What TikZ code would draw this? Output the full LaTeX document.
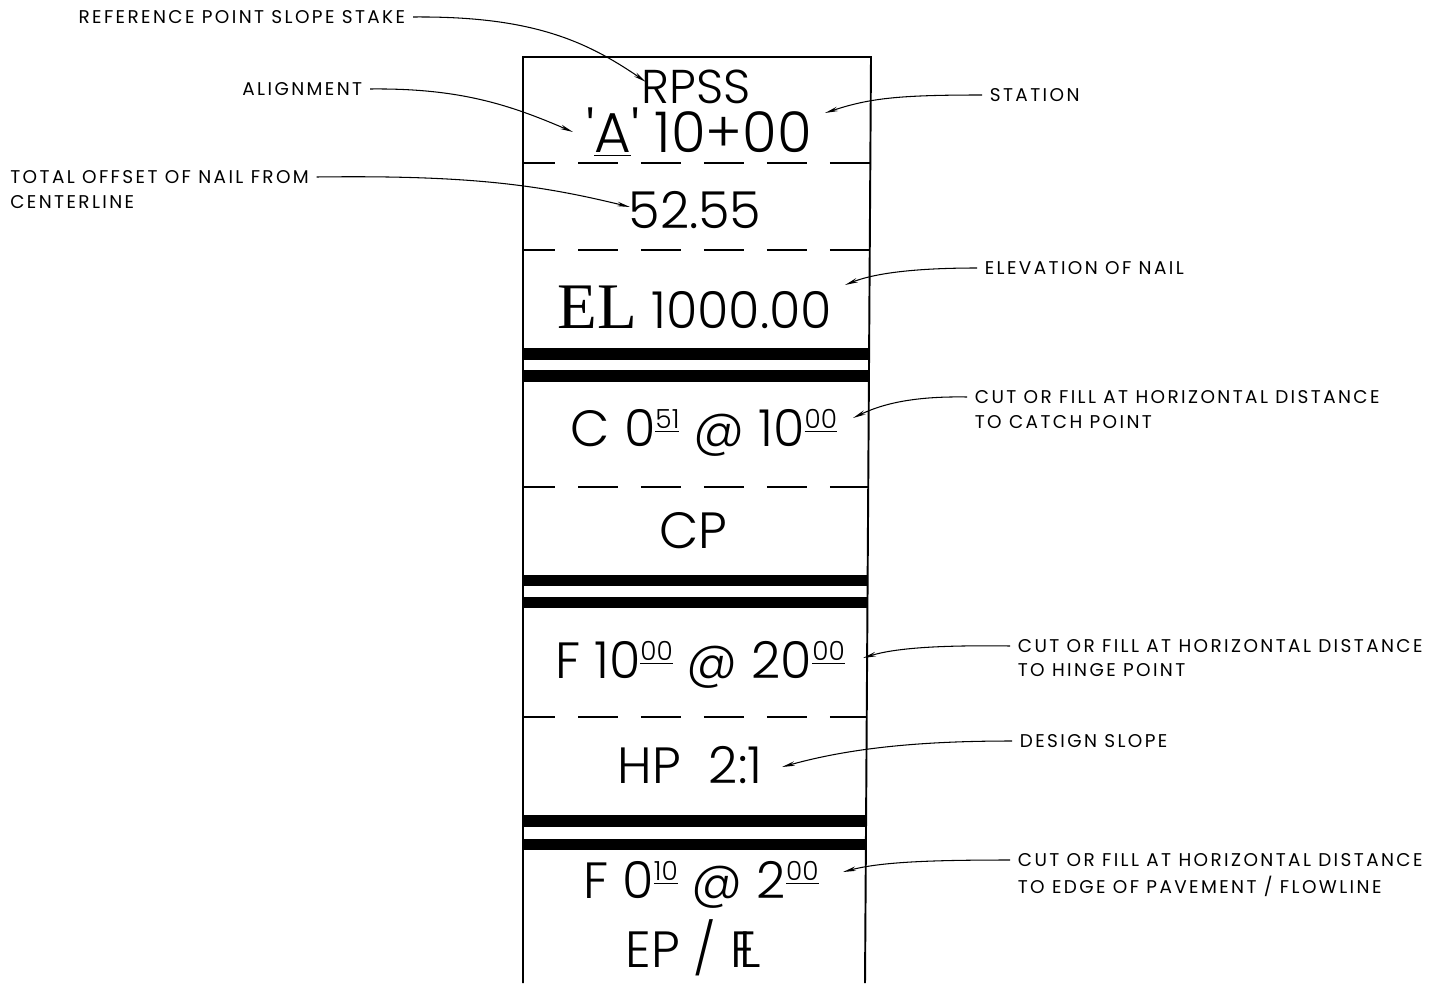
\documentclass[tikz,border=0pt]{standalone}
\usepackage{fontspec}
\setmainfont{Poppins}[LetterSpace=13]
\newfontfamily\handfont{Poppins Light}
\newfontfamily\elfont{Liberation Serif}
\usetikzlibrary{arrows.meta}
\newcommand\supline[1]{\raisebox{0.36em}{\fontsize{15}{15}\selectfont\underline{#1}}}

\begin{document}
\begin{tikzpicture}[x=0.02cm, y=-0.02cm, >={Stealth[length=0.26cm, width=0.09cm]},
    stake/.style={font=\handfont\fontsize{29}{29}\selectfont, inner sep=0},
    note/.style={font=\fontsize{10.5}{12}\selectfont, inner ysep=0, inner xsep=0.15cm, text depth=0pt},
    leader/.style={->, line width=0.6pt},
    split/.style={line width=0.7pt, dash pattern=on 0.8cm off 0.46cm, dash phase=0.16cm}]
    \useasboundingbox (0,0) rectangle (1452,983);

    % Stake
    \draw[line width=1.1pt] (523,983) -- (523,57) -- (871,57) -- (865,983);
    \draw[split] (523,163) -- (870,163);
    \draw[split] (523,250) -- (870,250);
    \draw[split] (523,487) -- (868,487);
    \draw[split] (523,717) -- (867,717);
    \fill (523,348) rectangle (869,360);
    \fill (523,370) rectangle (869,382);
    \fill (523,575) rectangle (868,586);
    \fill (523,597) rectangle (868,608);
    \fill (523,815) rectangle (866,827);
    \fill (523,839) rectangle (866,850);

    % Stake markings
    \node[stake, font=\handfont\fontsize{27}{27}\selectfont] (rpss) at (696,87) {RPSS};
    \node[stake, font=\handfont\fontsize{32}{32}\selectfont] (sta) at (699,132) {'\underline{A}' 10+00};
    \node[stake] (off) at (695,210) {52.55};
    \node[stake] (elev) at (695,307) {{\elfont\fontsize{37}{37}\selectfont EL} 1000.00};
    \node[stake] (cut1) at (704,433) {C 0\supline{51} @ 10\supline{00}};
    \node[stake] (cp) at (693,531) {CP};
    \node[stake] (cut2) at (700,665) {F 10\supline{00} @ 20\supline{00}};
    \node[stake] (hp) at (690,765) {HP\ \ 2:1};
    \node[stake] (cut3) at (701,885) {F 0\supline{10} @ 2\supline{00}};
    \node[stake] (ep) at (693,948) {EP / F\kern-0.32em L};

    % Points
    \coordinate (tipR) at (646,82);
    \coordinate (tipA) at (573,132);
    \coordinate (tipO) at (630,207);
    \coordinate (tipS) at (825,113);
    \coordinate (tipE) at (845,285);
    \coordinate (tipC) at (853,418);
    \coordinate (tipH) at (863,658);
    \coordinate (tipD) at (782,767);
    \coordinate (tipF) at (843,872);

    % Labels
    \node[note, anchor=east] (rpssnote) at (413,17) {REFERENCE POINT SLOPE STAKE};
    \node[note, anchor=east] (alignnote) at (370,89) {ALIGNMENT};
    \node[note, anchor=west] (offnote) at (2.5,177) {TOTAL OFFSET OF NAIL FROM};
    \node[note, anchor=west] (offnote2) at (2.5,202) {CENTERLINE};
    \node[note, anchor=west] (stanote) at (982,95) {STATION};
    \node[note, anchor=west] (elevnote) at (977,268) {ELEVATION OF NAIL};
    \node[note, anchor=west] (catchnote) at (967,397) {CUT OR FILL AT HORIZONTAL DISTANCE};
    \node[note, anchor=west] (catchnote2) at (967,422) {TO CATCH POINT};
    \node[note, anchor=west] (hingenote) at (1010,646) {CUT OR FILL AT HORIZONTAL DISTANCE};
    \node[note, anchor=west] (hingenote2) at (1010,670) {TO HINGE POINT};
    \node[note, anchor=west] (slopenote) at (1012,741) {DESIGN SLOPE};
    \node[note, anchor=west] (edgenote) at (1010,860) {CUT OR FILL AT HORIZONTAL DISTANCE};
    \node[note, anchor=west] (edgenote2) at (1010,885) {TO EDGE OF PAVEMENT / FLOWLINE};

    % Leaders
    \draw[leader] (rpssnote.east) .. controls (530,16) and (585,40) .. (tipR);
    \draw[leader] (alignnote.east) .. controls (460,88) and (510,105) .. (tipA);
    \draw[leader] (offnote.east) .. controls (470,175) and (540,185) .. (tipO);
    \draw[leader] (stanote.west) .. controls (900,95) and (870,98) .. (tipS);
    \draw[leader] (elevnote.west) .. controls (905,268) and (870,275) .. (tipE);
    \draw[leader] (catchnote.west) .. controls (910,396) and (880,405) .. (tipC);
    \draw[leader] (hingenote.west) .. controls (940,645) and (895,648) .. (tipH);
    \draw[leader] (slopenote.west) .. controls (920,741) and (850,748) .. (tipD);
    \draw[leader] (edgenote.west) .. controls (930,860) and (880,862) .. (tipF);
\end{tikzpicture}
\end{document}
